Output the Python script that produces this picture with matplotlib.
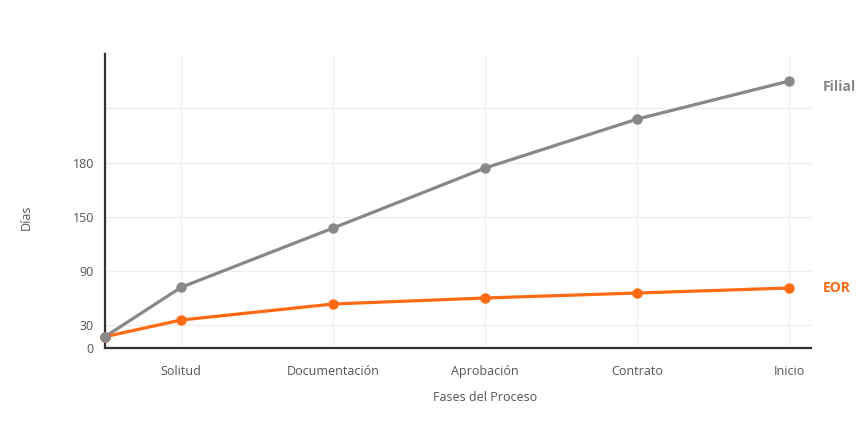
import matplotlib.pyplot as plt

# categories along the process; the first point sits on the axis (no label)
fases = ["", "Solitud", "Documentación", "Aprobación", "Contrato", "Inicio"]
x_pos = [-0.5, 0, 1, 2, 3, 4]

# values (in the chart's own linear scale)
filial = [12.6, 67.4, 133.3, 200.0, 254.4, 296.7]
eor = [12.6, 31.1, 48.9, 55.6, 61.1, 66.7]

# the reference uses uneven tick labels on evenly spaced gridlines
y_ticks = [0, 25.5, 85.5, 145.5, 205.5, 266.7]
y_labels = ["0", "30", "90", "150", "180", ""]

gris = "#888888"
naranja = "#FF6A13"
texto = "#555555"

plt.rcParams['font.family'] = ['Open Sans', 'DejaVu Sans']

fig = plt.figure(figsize=(8.65, 4.32), dpi=100)
ax = fig.add_axes([0.1214, 0.1944, 0.8156, 0.6806])

ax.plot(x_pos, filial, color=gris, lw=2.3, marker="o", ms=6.5, zorder=3,
        clip_on=False)
ax.plot(x_pos, eor, color=naranja, lw=2.3, marker="o", ms=6.5, zorder=3,
        clip_on=False)
# grey start point on top, as in the reference
ax.plot(x_pos[0], filial[0], color=gris, marker="o", ms=6.5, zorder=4,
        clip_on=False)

ax.set_xlim(-0.5, 4.14)
ax.set_ylim(0, 326.7)

ax.set_xticks(x_pos[1:])
ax.set_xticklabels(fases[1:])
ax.set_yticks(y_ticks)
ax.set_yticklabels(y_labels)

ax.grid(True, color="#eeeeee", lw=0.9)
ax.set_axisbelow(True)
ax.tick_params(length=0, labelsize=9, colors=texto, pad=8)
ax.tick_params(axis="x", pad=12)

for s in ["top", "right"]:
    ax.spines[s].set_visible(False)
for s in ["left", "bottom"]:
    ax.spines[s].set_color("#333333")
    ax.spines[s].set_linewidth(1.6)

ax.set_xlabel("Fases del Proceso", fontsize=9, color=texto)
ax.xaxis.set_label_coords(0.539, -0.146)
ax.set_ylabel("Días", fontsize=9, color=texto)
ax.yaxis.set_label_coords(-0.102, 0.446)

ax.text(4.22, filial[-1] - 7, "Filial", color=gris, fontsize=10,
        fontweight="bold", va="center", ha="left")
ax.text(4.22, eor[-1], "EOR", color=naranja, fontsize=10,
        fontweight="bold", va="center", ha="left")

fig.savefig("out.png", dpi=100)
